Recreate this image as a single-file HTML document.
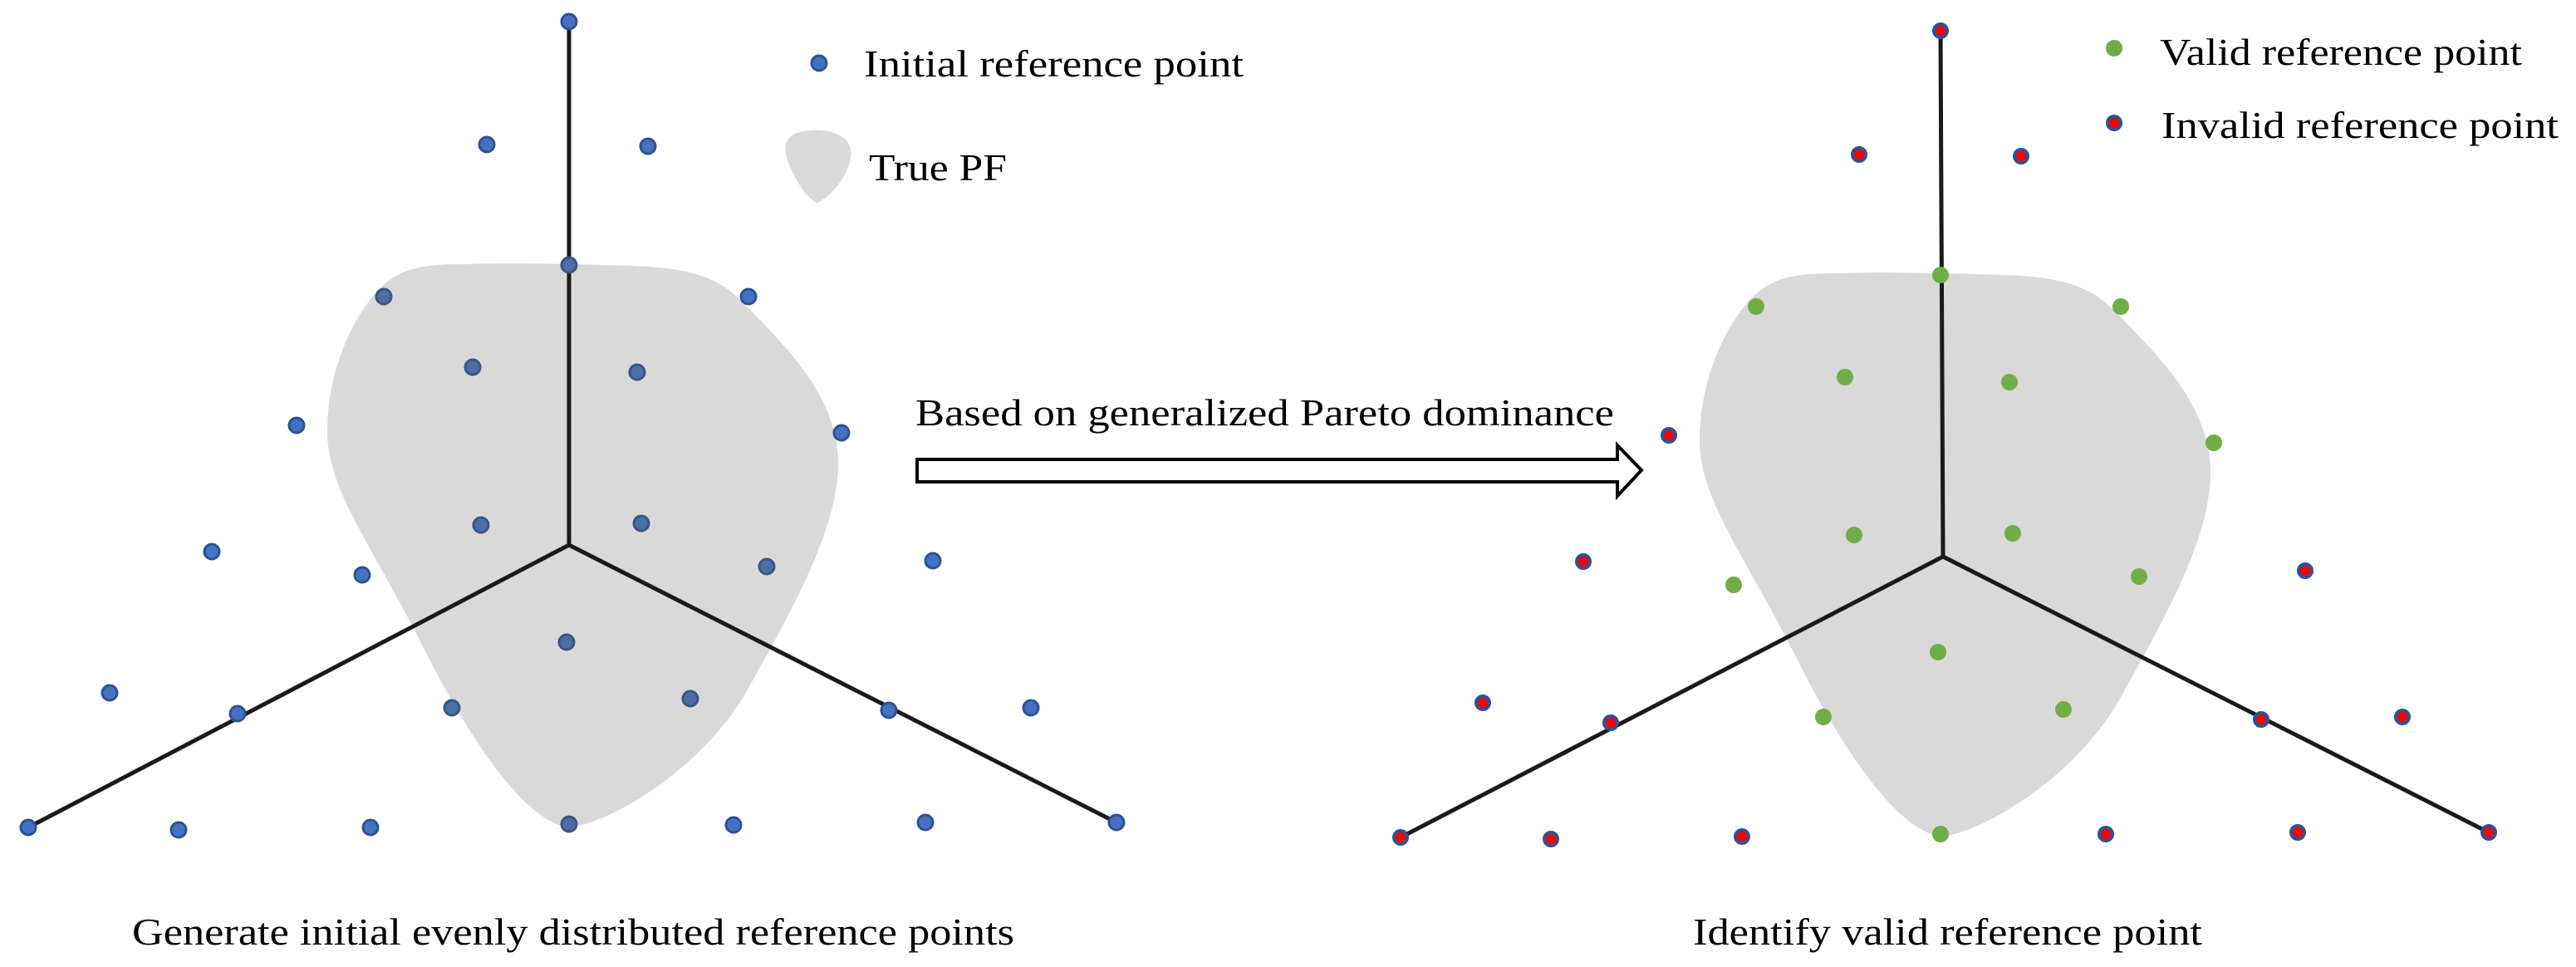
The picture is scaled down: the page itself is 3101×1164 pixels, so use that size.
<!DOCTYPE html>
<html><head><meta charset="utf-8"><style>
html,body{margin:0;padding:0;background:#fff;}
svg{display:block;}
text{font-family:"Liberation Serif",serif;fill:#000;}
</style></head><body>
<svg width="3101" height="1164" viewBox="0 0 3101 1164" xmlns="http://www.w3.org/2000/svg">
<defs>
<path id="blob" d="M 560 318 C 620 316, 700 318, 760 320 C 820 322, 860 330, 890 360 C 950 420, 1010 480, 1009 560 C 1008 640, 950 740, 900 830 C 850 920, 740 990, 685 996 C 630 990, 560 880, 510 780 C 450 660, 394 590, 394 520 C 394 440, 430 370, 465 340 C 490 320, 520 318, 560 318 Z"/>
</defs>
<!-- LEFT PANEL -->
<use href="#blob" fill="#d9d9d9"/>
<g stroke="#1a1a1a" stroke-width="5" fill="none" stroke-linecap="round">
<line x1="685" y1="30" x2="685" y2="656"/>
<line x1="685" y1="656" x2="34" y2="996"/>
<line x1="685" y1="656" x2="1344" y2="990"/>
</g>
<g fill="#4472c4" stroke="#2f528f" stroke-width="3">
<circle cx="685" cy="26" r="9"/><circle cx="586" cy="174" r="9"/><circle cx="780" cy="176" r="9"/>
<circle cx="901" cy="357" r="9"/><circle cx="357" cy="512" r="9"/>
<circle cx="1013" cy="521" r="9"/>
<circle cx="255" cy="664" r="9"/><circle cx="436" cy="692" r="9"/>
<circle cx="1123" cy="675" r="9"/><circle cx="132" cy="834" r="9"/>
<circle cx="286" cy="859" r="9"/>
<circle cx="1070" cy="855" r="9"/><circle cx="1241" cy="852" r="9"/><circle cx="34" cy="996" r="9"/>
<circle cx="215" cy="999" r="9"/><circle cx="446" cy="996" r="9"/>
<circle cx="883" cy="993" r="9"/><circle cx="1114" cy="990" r="9"/><circle cx="1344" cy="990" r="9"/>
</g>
<g fill="#4f6ea6" stroke="#3a5584" stroke-width="3">
<circle cx="685" cy="319" r="9"/><circle cx="462" cy="357" r="9"/>
<circle cx="569" cy="442" r="9"/><circle cx="767" cy="448" r="9"/>
<circle cx="579" cy="632" r="9"/><circle cx="772" cy="630" r="9"/>
<circle cx="923" cy="682" r="9"/><circle cx="682" cy="773" r="9"/>
<circle cx="544" cy="852" r="9"/><circle cx="831" cy="841" r="9"/>
<circle cx="685" cy="992" r="9"/>
</g>
<!-- legend left -->
<circle cx="986" cy="76" r="9" fill="#4472c4" stroke="#2f528f" stroke-width="3"/>
<text x="1040" y="92" font-size="46" textLength="457" lengthAdjust="spacingAndGlyphs">Initial reference point</text>
<path d="M 960 160 C 985 152, 1020 158, 1024 180 C 1028 200, 1005 235, 984 244 C 970 240, 950 205, 946 185 C 944 170, 950 163, 960 160 Z" fill="#d9d9d9"/>
<text x="1046" y="217" font-size="46" textLength="166" lengthAdjust="spacingAndGlyphs">True PF</text>
<!-- arrow -->
<text x="1102" y="512" font-size="46" textLength="841" lengthAdjust="spacingAndGlyphs">Based on generalized Pareto dominance</text>
<path d="M 1104 553 L 1947 553 L 1947 536 L 1976 566 L 1947 597 L 1947 580 L 1104 580 Z" fill="#fff" stroke="#000" stroke-width="4" stroke-linejoin="miter"/>
<!-- RIGHT PANEL -->
<use href="#blob" fill="#d9d9d9" transform="translate(1652,11)"/>
<g stroke="#1a1a1a" stroke-width="5" fill="none" stroke-linecap="round">
<line x1="2336" y1="37" x2="2339" y2="670"/>
<line x1="2339" y1="670" x2="1686" y2="1008"/>
<line x1="2339" y1="670" x2="2996" y2="1002"/>
</g>
<g fill="#70ad47">
<circle cx="2336" cy="331" r="10"/><circle cx="2114" cy="369" r="10"/><circle cx="2553" cy="369" r="10"/>
<circle cx="2221" cy="454" r="10"/><circle cx="2419" cy="460" r="10"/><circle cx="2665" cy="533" r="10"/>
<circle cx="2232" cy="644" r="10"/><circle cx="2423" cy="642" r="10"/><circle cx="2087" cy="704" r="10"/>
<circle cx="2575" cy="694" r="10"/><circle cx="2333" cy="785" r="10"/><circle cx="2195" cy="863" r="10"/>
<circle cx="2484" cy="854" r="10"/><circle cx="2336" cy="1004" r="10"/>
</g>
<g fill="#ff0000" stroke="#2f528f" stroke-width="4">
<circle cx="2336" cy="37" r="8"/><circle cx="2238" cy="186" r="8"/><circle cx="2433" cy="188" r="8"/>
<circle cx="2009" cy="524" r="8"/><circle cx="1906" cy="676" r="8"/><circle cx="2775" cy="687" r="8"/>
<circle cx="1785" cy="846" r="8"/><circle cx="1939" cy="870" r="8"/><circle cx="2722" cy="866" r="8"/>
<circle cx="2892" cy="863" r="8"/><circle cx="1686" cy="1008" r="8"/><circle cx="1867" cy="1010" r="8"/>
<circle cx="2097" cy="1007" r="8"/><circle cx="2535" cy="1004" r="8"/><circle cx="2766" cy="1002" r="8"/>
<circle cx="2996" cy="1002" r="8"/>
</g>
<!-- legend right -->
<circle cx="2545" cy="58" r="10" fill="#70ad47"/>
<text x="2600" y="78" font-size="46" textLength="436" lengthAdjust="spacingAndGlyphs">Valid reference point</text>
<circle cx="2545" cy="148" r="8" fill="#ff0000" stroke="#2f528f" stroke-width="4"/>
<text x="2602" y="166" font-size="46" textLength="478" lengthAdjust="spacingAndGlyphs">Invalid reference point</text>
<!-- captions -->
<text x="159" y="1137" font-size="46" textLength="1062" lengthAdjust="spacingAndGlyphs">Generate initial evenly distributed reference points</text>
<text x="2038" y="1137" font-size="46" textLength="613" lengthAdjust="spacingAndGlyphs">Identify valid reference point</text>
</svg>
</body></html>
